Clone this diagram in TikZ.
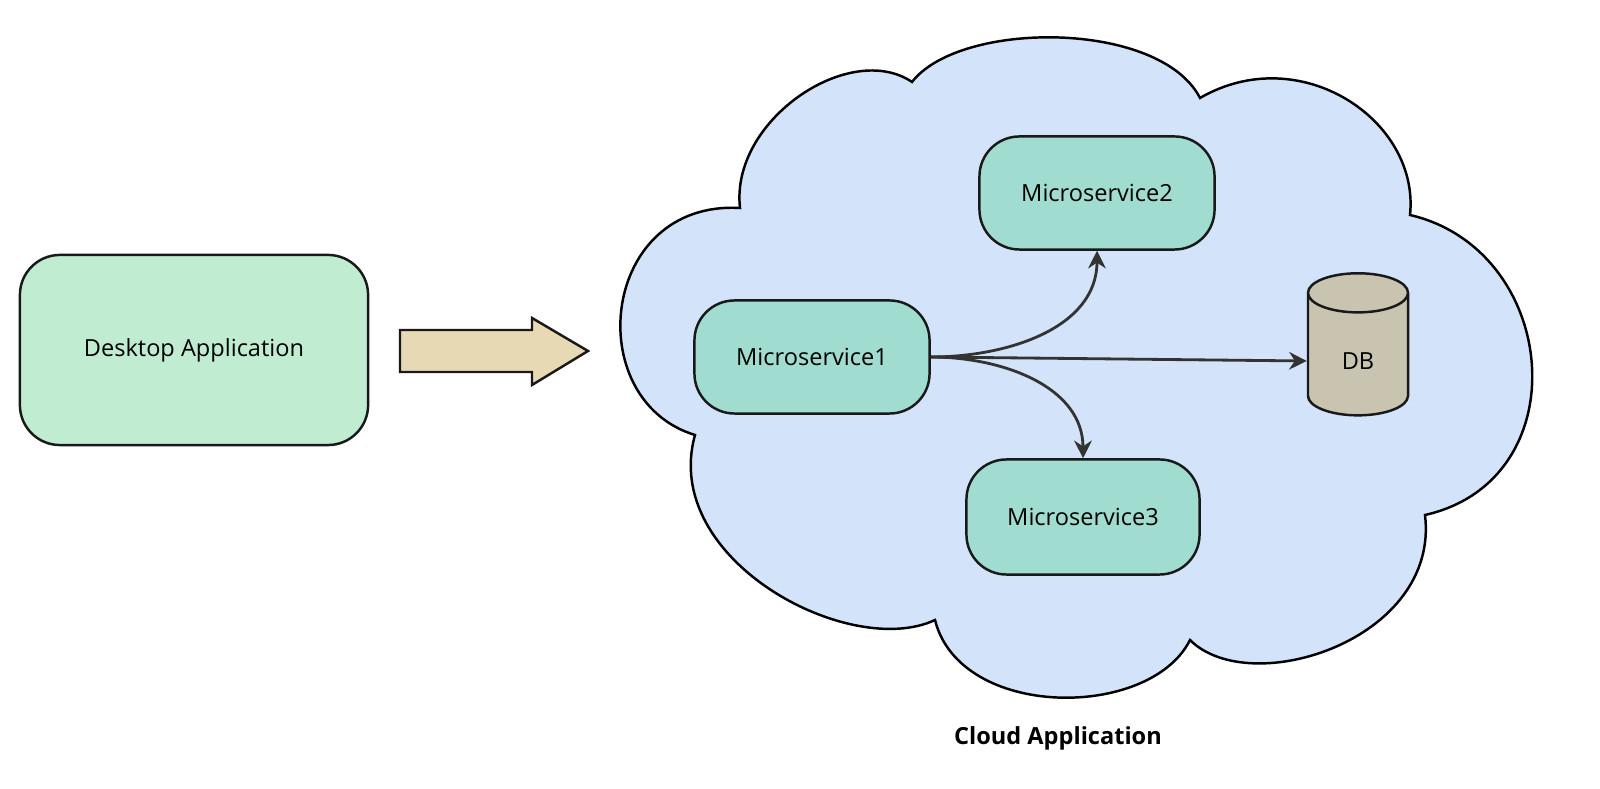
\documentclass[tikz,border=0pt]{standalone}
\usepackage{fontspec}
\setmainfont{Open Sans}
\usetikzlibrary{shapes.geometric,arrows.meta}
\definecolor{desk}{HTML}{C0EDD2}
\definecolor{ms}{HTML}{A0DCCF}
\definecolor{cloudc}{HTML}{D3E4FA}
\definecolor{arr}{HTML}{E8D9B5}
\definecolor{dbc}{HTML}{C8C4B0}
\definecolor{ln}{HTML}{333333}
\begin{document}
\begin{tikzpicture}[x=0.01cm,y=-0.01cm,
  box/.style={draw=black!90,line width=0.7pt,rounded corners=0.4cm,align=center,font=\fontsize{6.7}{8}\selectfont},
  conn/.style={draw=ln,line width=0.8pt,-{Stealth[length=5pt,width=5pt]}}]
\useasboundingbox (0,0) rectangle (1600,789);
% cloud
\draw[fill=cloudc,line width=0.7pt] (740,208) .. controls (730,120) and (850,40) .. (912,82)
 .. controls (960,20) and (1160,20) .. (1200,98)
 .. controls (1300,40) and (1420,120) .. (1410,215)
 .. controls (1560,250) and (1580,480) .. (1425,515)
 .. controls (1440,640) and (1250,700) .. (1190,640)
 .. controls (1150,720) and (960,720) .. (935,620)
 .. controls (850,660) and (660,560) .. (695,435)
 .. controls (580,400) and (600,200) .. (740,208) -- cycle;
\node[box,fill=desk,minimum width=3.48cm,minimum height=1.9cm] (desk) at (194,350) {Desktop Application};
\draw[draw=black!90,line width=0.7pt,fill=arr,line join=miter] (400,330) -- (532,330) -- (532,318) -- (588,351) -- (532,385) -- (532,372) -- (400,372) -- cycle;
\node[box,fill=ms,minimum width=2.35cm,minimum height=1.13cm] (m2) at (1097,193) {Microservice2};
\node[box,fill=ms,minimum width=2.35cm,minimum height=1.13cm] (m1) at (812,357) {Microservice1};
\node[box,fill=ms,minimum width=2.33cm,minimum height=1.15cm] (m3) at (1083,517) {Microservice3};
\node[draw=black!90,line width=0.7pt,fill=dbc,cylinder,shape border rotate=90,aspect=0.7,minimum width=1cm,minimum height=1.42cm,font=\fontsize{6.7}{8}\selectfont] (db) at (1358,361) {DB};
\node[font=\bfseries\fontsize{6.7}{8}\selectfont] (lbl) at (1058,738) {Cloud Application};
\draw[conn] (m1.east) to[out=0,in=-90] (m2.south);
\draw[conn] (m1.east) to[out=0,in=90] (m3.north);
\draw[conn] (m1.east) -- (db.west);
\end{tikzpicture}
\end{document}
